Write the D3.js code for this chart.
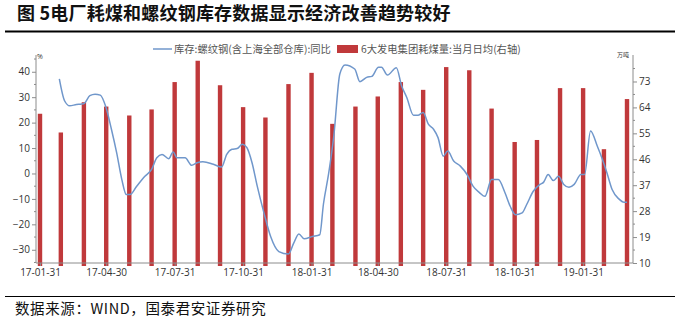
<!DOCTYPE html>
<html>
<head>
<meta charset="utf-8">
<script src="https://cdn.jsdelivr.net/npm/d3@7"></script>
<style>
  body { margin: 0; background: #fff; }
  svg { display: block; }
</style>
</head>
<body>
<script>
// monthly bars: 6大发电集团耗煤量 (万吨, right axis)
var barMonths = ["2017-01-31", "2017-02-28", "2017-03-31", "2017-04-30", "2017-05-31", "2017-06-30",
    "2017-07-31", "2017-08-31", "2017-09-30", "2017-10-31", "2017-11-30", "2017-12-31",
    "2018-01-31", "2018-02-28", "2018-03-31", "2018-04-30", "2018-05-31", "2018-06-30",
    "2018-07-31", "2018-08-31", "2018-09-30", "2018-10-31", "2018-11-30", "2018-12-31",
    "2019-01-31", "2019-02-28", "2019-03-31"];
var barValues = [61.8, 55.3, 65.8, 64.3, 61.2, 63.3, 72.8, 80.2, 71.7, 64.1, 60.5, 72.1,
    76.0, 58.3, 64.3, 67.8, 72.8, 70.1, 78.0, 76.9, 63.6, 52.0, 52.7, 70.7, 70.7, 49.5, 66.9];

// weekly line: 库存:螺纹钢 同比 (%, left axis)
var lineDates = ["2017-02-26", "2017-03-05", "2017-03-12", "2017-03-21", "2017-03-28", "2017-04-01",
    "2017-04-08", "2017-04-15", "2017-04-22", "2017-04-29", "2017-05-07", "2017-05-14", "2017-05-21",
    "2017-05-27", "2017-06-01", "2017-06-10", "2017-06-21", "2017-06-30", "2017-07-07", "2017-07-14",
    "2017-07-23", "2017-07-29", "2017-08-03", "2017-08-14", "2017-08-23", "2017-08-30", "2017-09-07",
    "2017-09-21", "2017-10-02", "2017-10-09", "2017-10-16", "2017-10-23", "2017-10-30", "2017-11-05",
    "2017-11-12", "2017-11-19", "2017-11-28", "2017-12-07", "2017-12-18", "2017-12-31", "2018-01-07",
    "2018-01-14", "2018-01-21", "2018-02-01", "2018-02-11", "2018-02-16", "2018-02-23", "2018-03-02",
    "2018-03-10", "2018-03-17", "2018-03-30", "2018-04-06", "2018-04-15", "2018-04-22", "2018-05-01",
    "2018-05-05", "2018-05-13", "2018-05-25", "2018-06-01", "2018-06-08", "2018-06-17", "2018-06-23",
    "2018-06-30", "2018-07-07", "2018-07-14", "2018-07-20", "2018-07-27", "2018-08-02", "2018-08-10",
    "2018-08-19", "2018-08-28", "2018-09-05", "2018-09-14", "2018-09-21", "2018-09-30", "2018-10-09",
    "2018-10-18", "2018-10-25", "2018-11-01", "2018-11-10", "2018-11-16", "2018-11-25", "2018-12-04",
    "2018-12-09", "2018-12-15", "2018-12-22", "2018-12-29", "2019-01-05", "2019-01-12", "2019-01-19",
    "2019-01-28", "2019-02-02", "2019-02-10", "2019-02-19", "2019-02-26", "2019-03-04", "2019-03-11",
    "2019-03-20", "2019-03-27", "2019-03-31"];
var lineValues = [37.2, 28.6, 26.6, 27.1, 27.3, 27.7, 30.6, 31.2, 30.8, 26.6, 17.4, 8.2, -2.4,
    -8.3, -8.3, -5.0, -1.1, 1.6, 6.2, 7.5, 5.8, 8.4, 6.2, 6.2, 3.2, 4.2, 4.6,
    3.6, 2.5, 7.5, 9.5, 9.8, 11.5, 10.2, 4.2, -5.0, -15.5, -24.8, -30.7, -31.7, -27.4,
    -23.8, -25.7, -24.8, -24.1, -12.0, 0.0, 15.0, 39.1, 42.7, 41.1, 36.1, 37.8, 38.2, 41.8,
    41.8, 38.7, 41.6, 34.5, 29.9, 22.9, 22.9, 24.0, 19.4, 17.4, 14.1, 6.8, 8.8, 4.9,
    2.9, -0.4, -5.0, -7.6, -9.0, -2.4, -2.4, -7.6, -12.9, -16.2, -15.5, -12.3, -7.0, -4.3,
    -3.4, -0.4, -2.8, -1.1, -4.3, -5.4, -4.3, -0.4, -0.4, 16.7, 10.8, 5.5, 0.3, -6.3,
    -10.0, -11.3, -11.3];

var xTickLabels = ["2017-01-31", "2017-04-30", "2017-07-31", "2017-10-31", "2018-01-31",
    "2018-04-30", "2018-07-31", "2018-10-31", "2019-01-31"];
var leftTicks = [-30, -20, -10, 0, 10, 20, 30, 40];
var rightTicks = [10, 19, 28, 37, 46, 55, 64, 73];

var seriesNames = ["库存:螺纹钢(含上海全部仓库):同比", "6大发电集团耗煤量:当月日均(右轴)"];
var title = "图 5电厂耗煤和螺纹钢库存数据显示经济改善趋势较好";
var source = "数据来源：WIND，国泰君安证券研究";

function init() {
    var width = 681, height = 322;
    var parse = d3.timeParse("%Y-%m-%d");
    var fmt = d3.timeFormat("%y-%m-%d");
    var axisColor = "#8c8c8c";
    var lblFont = "'Open Sans', 'Liberation Sans', sans-serif";

    var svg = d3.select("body").append("svg")
        .attr("width", width)
        .attr("height", height);

    // title and rules
    svg.append("text")
        .attr("x", 17).attr("y", 19.5)
        .attr("font-family", "'Noto Sans CJK SC', sans-serif")
        .attr("font-weight", "bold")
        .attr("font-size", "18px")
        .attr("letter-spacing", "0.2px")
        .attr("fill", "#111")
        .text(title);
    svg.append("line").attr("x1", 5).attr("x2", 675).attr("y1", 31.5).attr("y2", 31.5)
        .attr("stroke", "#000").attr("stroke-width", 2);
    svg.append("line").attr("x1", 5).attr("x2", 675).attr("y1", 296.5).attr("y2", 296.5)
        .attr("stroke", "#000").attr("stroke-width", 1);
    svg.append("text")
        .attr("x", 15).attr("y", 314)
        .attr("font-family", "'Noto Sans CJK SC', serif")
        .attr("font-size", "14.5px")
        .attr("letter-spacing", "0.6px")
        .attr("fill", "#111")
        .text(source);

    // scales
    var left = 36, right = 633, top = 57, bottom = 263;
    var x = d3.scaleTime()
        .domain([parse("2017-01-31"), parse("2019-03-31")])
        .range([40, 627]);
    var yL = d3.scaleLinear().domain([-35.2, 45.8]).range([bottom, top]);
    var yR = d3.scaleLinear().domain([10, 81.5]).range([bottom, top]);

    // bars (drawn slightly past the axis line like the original)
    svg.append("g").selectAll("rect")
        .data(barValues)
        .enter().append("rect")
        .attr("x", function(d, i) { return x(parse(barMonths[i])) - 2.2; })
        .attr("y", function(d) { return yR(d); })
        .attr("width", 4.4)
        .attr("height", function(d) { return bottom + 3 - yR(d); })
        .attr("fill", "#c0393b");

    // line
    var pts = lineValues.map(function(v, i) { return [parse(lineDates[i]), v]; });
    var line = d3.line()
        .x(function(d) { return x(d[0]); })
        .y(function(d) { return yL(d[1]); })
        .curve(d3.curveMonotoneX);
    svg.append("path")
        .datum(pts)
        .attr("d", line)
        .attr("fill", "none")
        .attr("stroke", "#7097cb")
        .attr("stroke-width", 1.5);

    // left axis
    var gL = svg.append("g").attr("transform", "translate(" + left + ",0)");
    gL.call(d3.axisLeft(yL).tickValues(leftTicks).tickSize(4).tickPadding(2));
    gL.append("g").selectAll("line")
        .data(leftTicks.map(function(t) { return t + 5; }).concat([-35]))
        .enter().append("line")
        .attr("x1", -2).attr("x2", 0)
        .attr("y1", function(d) { return yL(d); })
        .attr("y2", function(d) { return yL(d); });
    gL.select(".domain").attr("d", "M0," + (top - 2) + "V" + bottom);

    // right axis
    var gR = svg.append("g").attr("transform", "translate(" + right + ",0)");
    gR.call(d3.axisRight(yR).tickValues(rightTicks).tickSize(4).tickPadding(2));
    gR.append("g").selectAll("line")
        .data(rightTicks.map(function(t) { return t + 4.5; }))
        .enter().append("line")
        .attr("x1", 0).attr("x2", 2)
        .attr("y1", function(d) { return yR(d); })
        .attr("y2", function(d) { return yR(d); });
    gR.select(".domain").attr("d", "M0," + (top - 2) + "V" + bottom);

    [gL, gR].forEach(function(g) {
        g.selectAll("line").attr("stroke", axisColor);
        g.select(".domain").attr("stroke", axisColor);
        g.selectAll("text").attr("font-family", lblFont).attr("font-size", "10px").attr("fill", "#333");
    });

    // bottom axis
    var gX = svg.append("g").attr("transform", "translate(0," + bottom + ")");
    gX.call(d3.axisBottom(x)
        .tickValues(xTickLabels.map(parse))
        .tickFormat(fmt)
        .tickSize(3)
        .tickPadding(3));
    gX.select(".domain").attr("d", "M" + left + ",0H" + right).attr("stroke", axisColor);
    gX.selectAll("line").attr("stroke", axisColor);
    gX.selectAll("text").attr("font-family", lblFont).attr("font-size", "10px").attr("fill", "#333");

    // unit labels
    svg.append("text").attr("x", 37).attr("y", 59)
        .attr("font-size", "7px").attr("font-family", lblFont).attr("fill", "#333").text("%");
    svg.append("text").attr("x", 617).attr("y", 57)
        .attr("font-size", "6px").attr("font-family", "'Noto Sans CJK SC', sans-serif")
        .attr("fill", "#333").text("万吨");

    // legend
    var lg = svg.append("g").attr("font-family", "'Noto Sans CJK SC', sans-serif")
        .attr("font-size", "10.3px").attr("fill", "#555");
    lg.append("line").attr("x1", 153).attr("x2", 172).attr("y1", 49).attr("y2", 49)
        .attr("stroke", "#7097cb").attr("stroke-width", 1.5);
    lg.append("text").attr("x", 174).attr("y", 52.5).text(seriesNames[0]);
    lg.append("rect").attr("x", 337).attr("y", 45).attr("width", 21).attr("height", 8)
        .attr("fill", "#c0393b");
    lg.append("text").attr("x", 361).attr("y", 52.5).text(seriesNames[1]);
}

window.onload = init;
</script>
</body>
</html>
